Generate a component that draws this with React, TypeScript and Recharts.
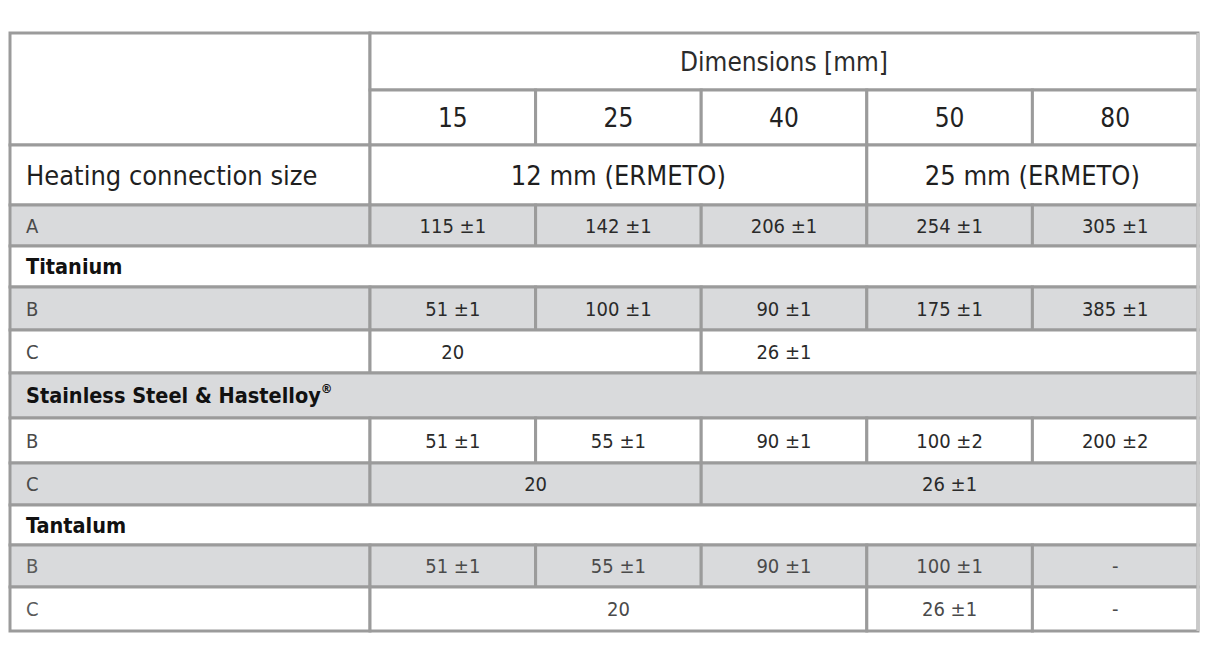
import React from 'react';
import { ComposedChart, XAxis, YAxis, ReferenceArea, ReferenceLine, Scatter } from 'recharts';

// ---------- data ----------
const headerTitle = 'Dimensions [mm]';
const dimensionLabels = ['15', '25', '40', '50', '80'];
const heatingLabel = 'Heating connection size';
const heatingSizes = ['12 mm (ERMETO)', '25 mm (ERMETO)'];
const heatingSpans = [3, 2];
const rowALabel = 'A';
const rowAValues = ['115 ±1', '142 ±1', '206 ±1', '254 ±1', '305 ±1'];
const materials = ['Titanium', 'Stainless Steel & Hastelloy', 'Tantalum'];
const titaniumB = ['51 ±1', '100 ±1', '90 ±1', '175 ±1', '385 ±1'];
const titaniumC = ['20', '26 ±1'];
const titaniumCSpans = [2, 3];
const steelB = ['51 ±1', '55 ±1', '90 ±1', '100 ±2', '200 ±2'];
const steelC = ['20', '26 ±1'];
const steelCSpans = [2, 3];
const tantalumB = ['51 ±1', '55 ±1', '90 ±1', '100 ±1', '-'];
const tantalumC = ['20', '26 ±1', '-'];
const tantalumCSpans = [3, 1, 1];

// ---------- layout ----------
const LABEL_COL_W = 360;
const DATA_COL_W = 165.6;
const ROW_H = [57, 55, 60, 41, 41, 43, 43, 45, 45, 42, 40, 42, 44];
const TOTAL_W = LABEL_COL_W + DATA_COL_W * dimensionLabels.length;
const TOTAL_H = ROW_H.reduce((a, b) => a + b, 0);
const XB = [0, ...[0, ...dimensionLabels].map((_, i) => LABEL_COL_W + DATA_COL_W * i)];
const YB = ROW_H.reduce<number[]>((acc, h) => [...acc, acc[acc.length - 1] + h], [0]);

const GRAY = '#d9dadc';
const WHITE = '#ffffff';
const LINE = '#9b9b9b';
const FONT = '"DejaVu Sans Condensed", "Liberation Sans Narrow", "DejaVu Sans", sans-serif';

type Rect = { x1: number; x2: number; y1: number; y2: number; fill: string };
type Txt = { x: number; y: number; text: string; kind: string; sup?: boolean };

const rects: Rect[] = [];
const texts: Txt[] = [];

const rowMid = (r: number) => (YB[r] + YB[r + 1]) / 2;

function addLabel(r: number, fill: string, text: string, kind: string, sup = false) {
  rects.push({ x1: XB[0], x2: XB[1], y1: YB[r], y2: YB[r + 1], fill });
  texts.push({ x: XB[0], y: rowMid(r), text, kind, sup });
}
function addValues(r: number, fill: string, values: string[], kind: string) {
  values.forEach((v, i) => {
    rects.push({ x1: XB[i + 1], x2: XB[i + 2], y1: YB[r], y2: YB[r + 1], fill });
    texts.push({ x: (XB[i + 1] + XB[i + 2]) / 2, y: rowMid(r), text: v, kind });
  });
}
function addSpans(r: number, fill: string, values: string[], spans: number[], kind: string, firstColAlign = false) {
  let c = 1;
  values.forEach((v, i) => {
    const a = XB[c];
    const b = XB[c + spans[i]];
    rects.push({ x1: a, x2: b, y1: YB[r], y2: YB[r + 1], fill });
    const x = firstColAlign ? (XB[c] + XB[c + 1]) / 2 : (a + b) / 2;
    texts.push({ x, y: rowMid(r), text: v, kind });
    c += spans[i];
  });
}
function addFull(r: number, fill: string, text: string, sup = false) {
  rects.push({ x1: XB[0], x2: XB[6], y1: YB[r], y2: YB[r + 1], fill });
  texts.push({ x: XB[0], y: rowMid(r), text, kind: 'material', sup });
}

// header
rects.push({ x1: XB[0], x2: XB[1], y1: YB[0], y2: YB[2], fill: WHITE });
rects.push({ x1: XB[1], x2: XB[6], y1: YB[0], y2: YB[1], fill: WHITE });
texts.push({ x: (XB[1] + XB[6]) / 2, y: rowMid(0), text: headerTitle, kind: 'title' });
addValues(1, WHITE, dimensionLabels, 'dim');
// heating
addLabel(2, WHITE, heatingLabel, 'heating');
addSpans(2, WHITE, heatingSizes, heatingSpans, 'heatingVal');
// A
addLabel(3, GRAY, rowALabel, 'rowLabel');
addValues(3, GRAY, rowAValues, 'val');
// Titanium
addFull(4, WHITE, materials[0]);
addLabel(5, GRAY, 'B', 'rowLabel');
addValues(5, GRAY, titaniumB, 'val');
addLabel(6, WHITE, 'C', 'rowLabel');
addSpans(6, WHITE, titaniumC, titaniumCSpans, 'val', true);
// Stainless
addFull(7, GRAY, materials[1], true);
addLabel(8, WHITE, 'B', 'rowLabel');
addValues(8, WHITE, steelB, 'val');
addLabel(9, GRAY, 'C', 'rowLabel');
addSpans(9, GRAY, steelC, steelCSpans, 'val');
// Tantalum
addFull(10, WHITE, materials[2]);
addLabel(11, GRAY, 'B', 'rowLabelLight');
addValues(11, GRAY, tantalumB, 'valLight');
addLabel(12, WHITE, 'C', 'rowLabelLight');
addSpans(12, WHITE, tantalumC, tantalumCSpans, 'valLight');

const STYLES: Record<string, { size: number; color: string; weight: number; left: boolean }> = {
  title: { size: 26, color: '#2b2b2b', weight: 400, left: false },
  dim: { size: 26, color: '#222', weight: 400, left: false },
  heating: { size: 27, color: '#1f1f1f', weight: 400, left: true },
  heatingVal: { size: 27, color: '#1f1f1f', weight: 400, left: false },
  rowLabel: { size: 20, color: '#4a4a4a', weight: 400, left: true },
  rowLabelLight: { size: 20, color: '#5a5a5a', weight: 400, left: true },
  val: { size: 20, color: '#2a2a2a', weight: 400, left: false },
  valLight: { size: 20, color: '#4a4a4a', weight: 400, left: false },
  material: { size: 21.5, color: '#111', weight: 700, left: true },
};

const TextShape = (props: any) => {
  const { cx, cy, payload } = props;
  const s = STYLES[payload.kind];
  return (
    <text
      x={s.left ? cx + 16 : cx}
      y={cy}
      dy="0.36em"
      textAnchor={s.left ? 'start' : 'middle'}
      fontFamily={FONT}
      fontSize={s.size}
      fontWeight={s.weight}
      fill={s.color}
    >
      {payload.text}
      {payload.sup ? (
        <tspan dy="-0.75em" fontSize={13} fontWeight={700}>
          ®
        </tspan>
      ) : null}
    </text>
  );
};

export default function App() {
  return (
    <div style={{ position: 'absolute', left: 0, top: 0, background: '#fff' }}>
      <ComposedChart
        width={1210}
        height={661}
        margin={{ top: 33, right: 12, bottom: 30, left: 10 }}
        data={texts}
      >
        <XAxis type="number" dataKey="x" domain={[0, TOTAL_W]} hide allowDataOverflow />
        <YAxis type="number" dataKey="y" domain={[0, TOTAL_H]} reversed hide allowDataOverflow />
        {rects.map((r, i) => (
          <ReferenceArea
            key={i}
            x1={r.x1}
            x2={r.x2}
            y1={r.y1}
            y2={r.y2}
            fill={r.fill}
            fillOpacity={1}
            stroke={LINE}
            strokeWidth={3}
            ifOverflow="visible"
          />
        ))}
        <ReferenceLine x={TOTAL_W} stroke="#c9c9c9" strokeWidth={3} ifOverflow="visible" />
        <Scatter data={texts} dataKey="y" isAnimationActive={false} shape={TextShape} />
      </ComposedChart>
    </div>
  );
}
